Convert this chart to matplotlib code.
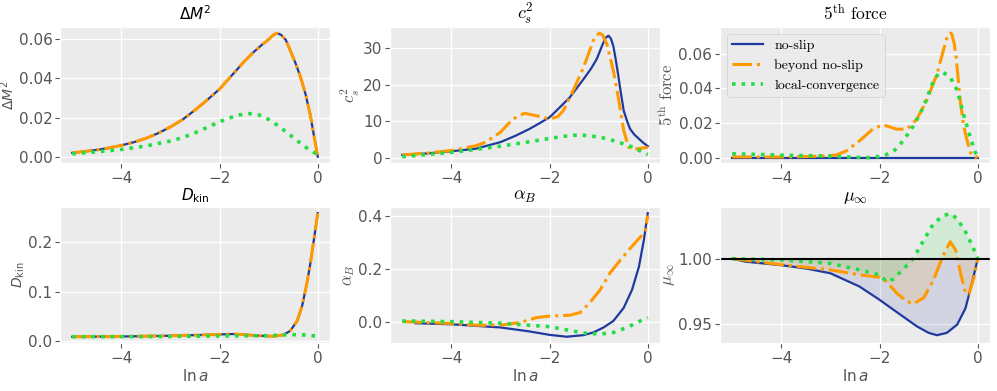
import matplotlib
matplotlib.use("Agg")
import matplotlib.pyplot as plt
import numpy as np

plt.style.use('ggplot')

blue = '#1f3a9e'
orange = '#ff9900'
green = '#22dd44'

# Delta M^2 (no-slip and beyond no-slip coincide)
dm_x = [-5, -4.75, -4.5, -4.25, -4, -3.75, -3.5, -3.25, -3, -2.75, -2.5, -2.25, -2, -1.75, -1.5, -1.3,
        -1.15, -1, -0.9, -0.83, -0.75, -0.65, -0.55, -0.45, -0.35, -0.25, -0.15, -0.08, 0]
dm_ns = [0.002, 0.0027, 0.0035, 0.0045, 0.0058, 0.0074, 0.0094, 0.012, 0.0152, 0.019, 0.0238, 0.029,
         0.0345, 0.0415, 0.0485, 0.0535, 0.0568, 0.0598, 0.0622, 0.063, 0.0622, 0.0595, 0.0535, 0.0475,
         0.0405, 0.032, 0.021, 0.011, 0.0]
dm_lc_x = [-5, -4.5, -4, -3.5, -3, -2.75, -2.5, -2.25, -2, -1.8, -1.6, -1.4, -1.2, -1, -0.8, -0.6,
           -0.4, -0.2, 0]
dm_lc = [0.0015, 0.0025, 0.0037, 0.0055, 0.008, 0.0098, 0.0122, 0.015, 0.0178, 0.0198, 0.0213, 0.022,
         0.0213, 0.019, 0.0157, 0.0118, 0.0078, 0.004, 0.001]

# c_s^2
cs_x_ns = [-5, -4.5, -4, -3.5, -3, -2.7, -2.41, -2.2, -2, -1.86, -1.59, -1.31, -1.15, -1.04, -0.92,
           -0.86, -0.8, -0.75, -0.7, -0.66, -0.6, -0.56, -0.49, -0.42, -0.36, -0.27, -0.18, -0.09, 0]
cs_ns = [0.8, 1.2, 1.8, 2.5, 4.3, 6.0, 7.9, 9.5, 11.1, 12.9, 16.5, 21.5, 24.5, 27.0, 31.0, 32.8, 33.4,
         32.6, 30.5, 27.5, 22.5, 18.8, 12.9, 10.0, 7.9, 6.3, 5.2, 4.1, 3.2]
cs_x_bn = [-5, -4.5, -4, -3.5, -3.3, -3, -2.75, -2.51, -2.3, -2.13, -2, -1.83, -1.72, -1.52, -1.31,
           -1.11, -1.05, -0.98, -0.92, -0.83, -0.7, -0.6, -0.49, -0.39, -0.29, -0.15, 0]
cs_bn = [0.8, 1.3, 2.0, 3.3, 4.3, 7.0, 10.6, 12.2, 11.6, 11.1, 10.6, 11.3, 12.9, 18.4, 24.7, 32.0,
         33.5, 34.1, 33.6, 31.0, 23.8, 16.5, 7.5, 2.9, 2.3, 2.6, 2.9]
cs_x_lc = [-5, -4.5, -4, -3.5, -3, -2.5, -2, -1.7, -1.38, -1, -0.8, -0.6, -0.45, -0.3, -0.1, 0]
cs_lc = [0.3, 0.9, 1.5, 2.3, 3.2, 4.2, 5.3, 5.9, 6.3, 5.7, 5.1, 4.3, 3.6, 2.9, 1.5, 0.9]

# 5th force
ff_x_ns = [-5, 0]
ff_ns = [0.0, 0.0]
ff_x_bn = [-5, -4, -3.3, -2.89, -2.68, -2.41, -2.14, -1.93, -1.79, -1.65, -1.44, -1.24, -1.04, -0.83,
           -0.7, -0.63, -0.6, -0.56, -0.53, -0.48, -0.44, -0.4, -0.36, -0.3, -0.25, -0.15, -0.05, 0]
ff_bn = [0.0005, 0.0004, 0.0008, 0.0015, 0.0039, 0.0097, 0.0165, 0.019, 0.0178, 0.0165, 0.0165, 0.0223,
         0.033, 0.0484, 0.062, 0.069, 0.0712, 0.072, 0.0715, 0.066, 0.058, 0.046, 0.034, 0.021, 0.0136,
         0.003, 0.0, 0.001]
ff_x_lc = [-5, -4, -3.1, -2.27, -1.93, -1.72, -1.52, -1.31, -1.11, -0.9, -0.8, -0.71, -0.56, -0.42,
           -0.29, -0.15, -0.05, 0]
ff_lc = [0.0023, 0.0015, 0.001, 0.0, 0.001, 0.0035, 0.0097, 0.0184, 0.029, 0.0445, 0.0485, 0.0494,
         0.0465, 0.039, 0.025, 0.0116, 0.003, 0.001]

# D_kin (no-slip and beyond no-slip coincide)
dk_x = [-5, -4, -3, -2.2, -1.7, -1.2, -0.9, -0.7, -0.56, -0.42, -0.32, -0.22, -0.15, -0.08, 0]
dk_ns = [0.009, 0.0095, 0.011, 0.013, 0.0145, 0.011, 0.01, 0.0127, 0.021, 0.041, 0.071, 0.118, 0.158,
         0.205, 0.259]
dk_x_lc = [-5, -4, -3, -2, -1.5, -1, -0.6, -0.3, 0]
dk_lc = [0.009, 0.0092, 0.0095, 0.0105, 0.011, 0.011, 0.0133, 0.0127, 0.01]

# alpha_B
ab_x_ns = [-4.73, -4, -3, -2.41, -2, -1.65, -1.31, -1.11, -0.9, -0.7, -0.49, -0.32, -0.18, -0.08, 0]
ab_ns = [-0.006, -0.01, -0.022, -0.037, -0.05, -0.057, -0.051, -0.041, -0.022, 0.0025, 0.052, 0.12,
         0.207, 0.307, 0.409]
ab_x_bn = [-5, -4, -3.43, -2.95, -2.61, -2.27, -2, -1.59, -1.38, -1.18, -0.97, -0.77, -0.56, -0.36,
           -0.15, -0.05, 0]
ab_bn = [0.0, -0.007, -0.014, -0.012, -0.004, 0.015, 0.021, 0.024, 0.034, 0.071, 0.12, 0.183, 0.232,
         0.276, 0.319, 0.344, 0.40]
ab_x_lc = [-5, -4, -3, -2, -1.31, -0.97, -0.7, -0.42, -0.18, 0]
ab_lc = [0.0025, 0.0, -0.006, -0.019, -0.043, -0.047, -0.041, -0.022, 0.0, 0.015]

# mu_inf
mu_x_ns = [-5, -4.73, -4, -3.5, -3, -2.41, -2, -1.59, -1.24, -1.0, -0.83, -0.63, -0.42, -0.25, -0.12, 0]
mu_ns = [1.0, 0.9977, 0.995, 0.9925, 0.9888, 0.9787, 0.9685, 0.9575, 0.9482, 0.9432, 0.9414, 0.9432,
         0.9495, 0.962, 0.981, 1.0]
mu_x_bn = [-5, -4, -3, -2.41, -2, -1.86, -1.65, -1.45, -1.31, -1.1, -0.9, -0.7, -0.56, -0.45, -0.35,
           -0.25, -0.18, -0.08, 0]
mu_bn = [1.0, 0.9954, 0.9914, 0.9876, 0.9858, 0.9825, 0.9736, 0.9673, 0.9655, 0.97, 0.9838, 1.0028,
         1.013, 1.0066, 0.9888, 0.9736, 0.973, 0.985, 1.0]
mu_x_lc = [-5, -4, -3, -2.41, -2, -1.86, -1.72, -1.5, -1.31, -1.1, -0.9, -0.7, -0.56, -0.42, -0.25,
           -0.1, 0]
mu_lc = [1.0, 0.999, 0.9964, 0.9914, 0.9876, 0.9825, 0.9843, 0.9926, 1.0003, 1.0142, 1.027, 1.033,
         1.0345, 1.0307, 1.0206, 1.0091, 1.0]

fig, axs = plt.subplots(2, 3, figsize=(9.97, 3.91), dpi=100)
fig.subplots_adjust(left=0.0602, right=0.993, top=0.931, bottom=0.123, wspace=0.222, hspace=0.324)

def draw(ax, xs1, y1, xs2, y2, xs3, y3):
    ax.plot(xs1, y1, color=blue, lw=1.6, ls='-', label='no-slip')
    ax.plot(xs2, y2, color=orange, lw=2.2, ls='-.', label='beyond no-slip')
    ax.plot(xs3, y3, color=green, lw=2.6, ls=':', label='local-convergence')

draw(axs[0, 0], dm_x, dm_ns, dm_x, dm_ns, dm_lc_x, dm_lc)
draw(axs[0, 1], cs_x_ns, cs_ns, cs_x_bn, cs_bn, cs_x_lc, cs_lc)
draw(axs[0, 2], ff_x_ns, ff_ns, ff_x_bn, ff_bn, ff_x_lc, ff_lc)
draw(axs[1, 0], dk_x, dk_ns, dk_x, dk_ns, dk_x_lc, dk_lc)
draw(axs[1, 1], ab_x_ns, ab_ns, ab_x_bn, ab_bn, ab_x_lc, ab_lc)
draw(axs[1, 2], mu_x_ns, mu_ns, mu_x_bn, mu_bn, mu_x_lc, mu_lc)

ax = axs[1, 2]
ax.axhline(1.0, color='black', lw=1.5)
ax.fill_between(mu_x_ns, mu_ns, 1.0, color=blue, alpha=0.12, lw=0)
ax.fill_between(mu_x_bn, mu_bn, 1.0, color=orange, alpha=0.12, lw=0)
ax.fill_between(mu_x_lc, mu_lc, 1.0, color=green, alpha=0.12, lw=0)

labels = [(r'$\Delta M^2$', 'dejavusans', 11, 10), (r'$c_s^2$', 'cm', 13, 12),
          (r'$5^{\rm th}\ \mathrm{force}$', 'cm', 12.5, 12),
          (r'$D_{\rm kin}$', 'dejavusans', 11, 10), (r'$\alpha_B$', 'cm', 13, 12),
          (r'$\mu_\infty$', 'cm', 13, 12)]
for ax, (lab, mf, ts, ls) in zip(axs.flat, labels):
    ax.set_facecolor('#EBEBEB')
    ax.set_title(lab, fontsize=ts, math_fontfamily=mf, pad=5)
    ax.set_ylabel(lab, fontsize=ls, math_fontfamily=mf, color='#555555', labelpad=1)
    ax.set_xticks([-4, -2, 0])
    ax.tick_params(labelsize=11, colors='#555555', pad=2)
    ax.grid(True, color='white', lw=1.0)

axs[0, 0].set_yticks([0, 0.02, 0.04, 0.06])
axs[0, 1].set_yticks([0, 10, 20, 30])
axs[0, 2].set_yticks([0, 0.02, 0.04, 0.06])
axs[0, 2].set_ylim(-0.003, 0.0755)
axs[1, 0].set_yticks([0, 0.1, 0.2])
axs[1, 1].set_yticks([0, 0.2, 0.4])
axs[1, 2].set_yticks([0.95, 1.0])
axs[1, 2].set_ylim(0.9355, 1.0396)
for ax in axs[1]:
    ax.set_xlabel(r'$\ln a$', fontsize=11, color='#555555', labelpad=2)

axs[0, 2].legend(loc='upper left', prop={'family': 'cmr10', 'size': 10}, handlelength=2.2,
                 facecolor='#EBEBEB', edgecolor='#cccccc', framealpha=0.9)

plt.savefig('out.png', dpi=100)
